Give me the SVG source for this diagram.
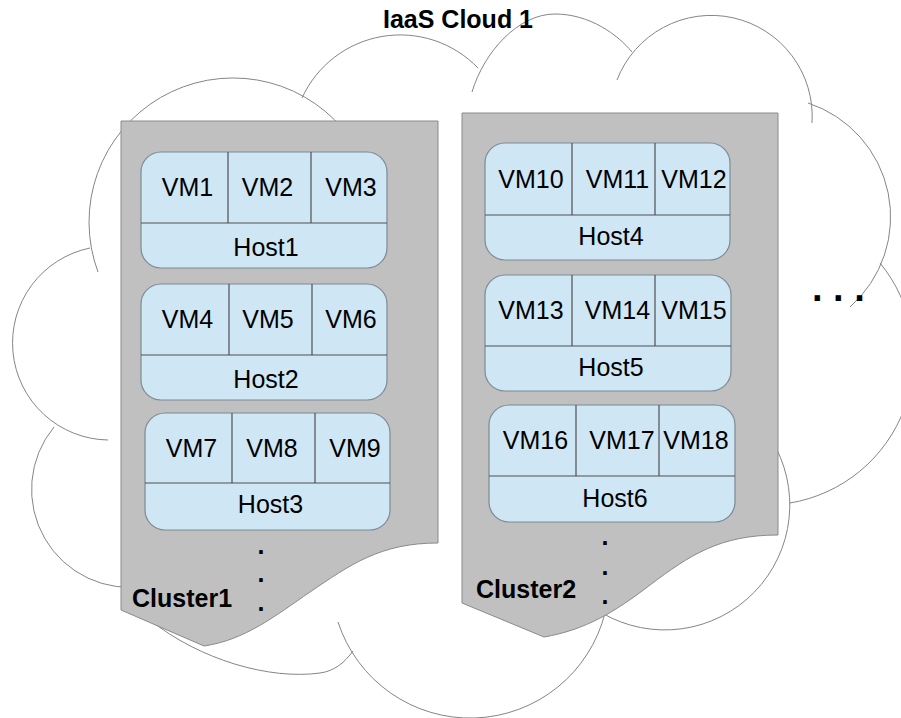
<svg xmlns="http://www.w3.org/2000/svg" width="901" height="718" viewBox="0 0 901 718">
<style>
.arc{fill:none;stroke:#858585;stroke-width:1}
.cluster{fill:#c0c0c0;stroke:#8a8a8a;stroke-width:1}
.host{fill:#cfe6f4;stroke:#7d8a94;stroke-width:1.2}
.div{stroke:#505050;stroke-width:1.2;fill:none}
.t{font-family:"Liberation Sans",Arial,sans-serif;font-size:25px;fill:#000;text-anchor:middle}
.b{font-family:"Liberation Sans",Arial,sans-serif;font-size:25px;font-weight:bold;fill:#000}
</style>
<rect width="901" height="718" fill="#fff"/>
<g id="cloud">
<path class="arc" d="M98,272 A144,144 0 0 1 343,129"/>
<path class="arc" d="M302,98 A108,108 0 0 1 478,68"/>
<path class="arc" d="M472,92 C484,52 518,14 555,14 C590,14 618,35 632,52"/>
<path class="arc" d="M617,80 A101,101 0 0 1 812,123"/>
<path class="arc" d="M808,103 A120,120 0 0 1 850,307"/>
<path class="arc" d="M880,263 A148,148 0 0 1 790,503"/>
<path class="arc" d="M771,439 A125,125 0 0 1 602,613"/>
<path class="arc" d="M338,622 A139,139 0 0 0 605,613"/>
<path class="arc" d="M150,620 C200,660 270,680 320,673 C335,671 345,662 353,651"/>
<path class="arc" d="M54,427 A98,98 0 0 0 146,586"/>
<path class="arc" d="M90,248 A97,97 0 0 0 108,440"/>
<text class="b" x="458" y="28" text-anchor="middle">IaaS Cloud 1</text>
<text class="b" x="812" y="301" style="font-size:38px">. . .</text>
</g>
<g id="cluster1">
<path class="cluster" d="M121,121 H438 V543 C380,543 350,565 310,592 C275,616 245,640 204,646 L121,610 Z"/>
<text class="b" x="132" y="607">Cluster1</text>
<text class="b" x="261" y="554" text-anchor="middle">.</text>
<text class="b" x="261" y="582" text-anchor="middle">.</text>
<text class="b" x="261" y="611" text-anchor="middle">.</text>
</g>
<g id="cluster2">
<path class="cluster" d="M462,113 H778 V535 C720,535 690,555 650,585 C615,612 585,630 544,637 L462,603 Z"/>
<text class="b" x="476" y="598">Cluster2</text>
<text class="b" x="605" y="545" text-anchor="middle">.</text>
<text class="b" x="605" y="575" text-anchor="middle">.</text>
<text class="b" x="605" y="604" text-anchor="middle">.</text>
</g>
<g id="host1">
<rect class="host" x="141" y="152" width="246" height="116" rx="20"/>
<path class="div" d="M141,223 H387 M228,152 V223 M311,152 V223"/>
<text class="t" x="187.5" y="196">VM1</text>
<text class="t" x="267.5" y="196">VM2</text>
<text class="t" x="351" y="196">VM3</text>
<text class="t" x="266" y="256">Host1</text>
</g>
<g id="host2">
<rect class="host" x="141" y="284" width="246" height="116" rx="20"/>
<path class="div" d="M141,355 H387 M229,284 V355 M312,284 V355"/>
<text class="t" x="187.5" y="328">VM4</text>
<text class="t" x="268" y="328">VM5</text>
<text class="t" x="351" y="328">VM6</text>
<text class="t" x="266" y="388">Host2</text>
</g>
<g id="host3">
<rect class="host" x="145" y="413" width="245" height="117" rx="20"/>
<path class="div" d="M145,483 H390 M232,413 V483 M315,413 V483"/>
<text class="t" x="191.5" y="457">VM7</text>
<text class="t" x="272" y="457">VM8</text>
<text class="t" x="355" y="457">VM9</text>
<text class="t" x="270.5" y="513">Host3</text>
</g>
<g id="host4">
<rect class="host" x="485" y="143" width="245" height="117" rx="20"/>
<path class="div" d="M485,215 H730 M572,143 V215 M655,143 V215"/>
<text class="t" x="531" y="188">VM10</text>
<text class="t" x="617.5" y="188">VM11</text>
<text class="t" x="694" y="188">VM12</text>
<text class="t" x="611" y="245">Host4</text>
</g>
<g id="host5">
<rect class="host" x="485" y="275" width="246" height="116" rx="20"/>
<path class="div" d="M485,346 H731 M572,275 V346 M655,275 V346"/>
<text class="t" x="531" y="319">VM13</text>
<text class="t" x="617.5" y="319">VM14</text>
<text class="t" x="694" y="319">VM15</text>
<text class="t" x="611" y="376">Host5</text>
</g>
<g id="host6">
<rect class="host" x="489" y="405" width="246" height="117" rx="20"/>
<path class="div" d="M489,476 H735 M576,405 V476 M659,405 V476"/>
<text class="t" x="535.5" y="449">VM16</text>
<text class="t" x="622" y="449">VM17</text>
<text class="t" x="696" y="449">VM18</text>
<text class="t" x="615" y="507">Host6</text>
</g>
</svg>
